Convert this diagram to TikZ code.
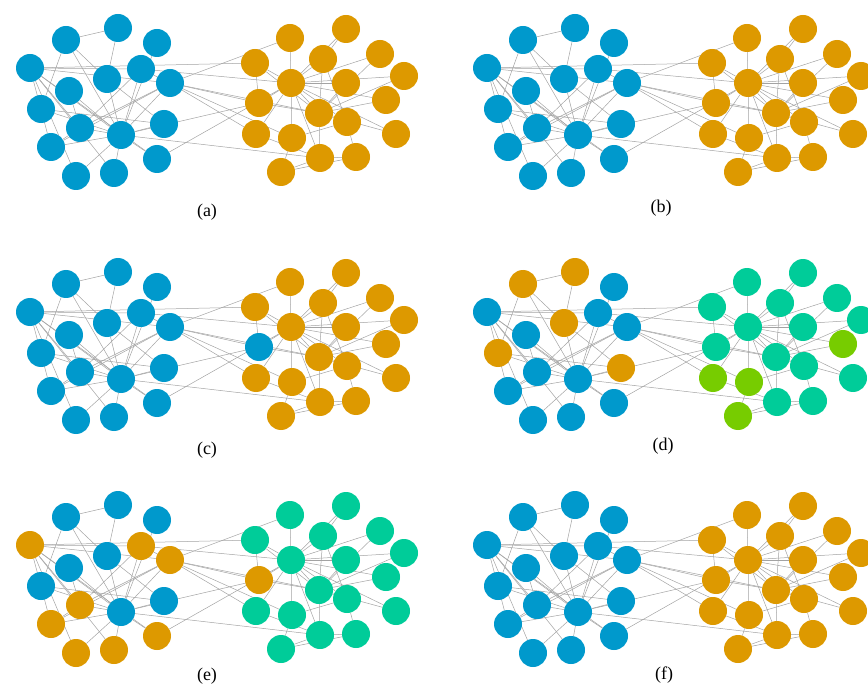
\documentclass[tikz,border=0pt]{standalone}
\usepackage{fontspec}
\setmainfont{Liberation Serif}

\definecolor{kblue}{RGB}{0,153,204}
\definecolor{korange}{RGB}{221,153,0}
\definecolor{kteal}{RGB}{0,204,153}
\definecolor{klime}{RGB}{119,204,0}

\pgfdeclarelayer{edges}
\pgfsetlayers{edges,main}

% member/x/y/side (l = left faction, r = right faction)
\newcommand\clubnodes{1/121/135/l, 2/30/68/l, 3/170/83/l, 4/80/128/l,
  5/41/109/l, 6/107/79/l, 7/66/40/l, 8/51/147/l, 11/164/124/l,
  12/157/43/l, 13/69/91/l, 14/141/69/l, 17/118/28/l, 18/76/176/l,
  20/157/159/l, 22/114/173/l,
  9/259/103/r, 10/290/38/r, 15/380/54/r, 16/404/76/r, 19/346/83/r,
  21/386/100/r, 23/396/134/r, 24/347/122/r, 25/281/172/r, 26/356/157/r,
  27/346/29/r, 28/292/138/r, 29/256/134/r, 30/323/59/r, 31/255/63/r,
  32/320/158/r, 33/319/113/r, 34/291/83/r}

\newcommand\clubedges{1/2, 1/3, 1/4, 1/5, 1/6, 1/7, 1/8, 1/9, 1/11, 1/12,
  1/13, 1/14, 1/18, 1/20, 1/22, 1/32, 2/3, 2/4, 2/8, 2/14, 2/18, 2/20,
  2/22, 2/31, 3/4, 3/8, 3/9, 3/10, 3/14, 3/28, 3/29, 3/33, 4/8, 4/13,
  4/14, 5/7, 5/11, 6/7, 6/11, 6/17, 7/17, 9/31, 9/33, 9/34, 10/34, 14/34,
  15/33, 15/34, 16/33, 16/34, 19/33, 19/34, 20/34, 21/33, 21/34, 23/33,
  23/34, 24/26, 24/28, 24/30, 24/33, 24/34, 25/26, 25/28, 25/32, 26/32,
  27/30, 27/34, 28/34, 29/32, 29/34, 30/33, 30/34, 31/33, 31/34, 32/33,
  32/34, 33/34}

% \recolor{panel}{members}{colour}
\newcommand\recolor[3]{\foreach \m in {#2}{%
  \expandafter\xdef\csname col#1-\m\endcsname{#3}}}

% \clubpanel{panel}{x shift}{y shift}{colour of right faction}
\newcommand\clubpanel[4]{%
  \begin{scope}[shift={(#2,#3)}]
    \foreach \n/\x/\y/\s in \clubnodes {
      \edef\fc{\ifcsname col#1-\n\endcsname\csname col#1-\n\endcsname
        \else\if l\s kblue\else #4\fi\fi}
      \node[member, fill=\fc] (#1-\n) at (\x,\y) {};
    }
    \begin{pgfonlayer}{edges}
      \foreach \a/\b in \clubedges \draw[link] (#1-\a) -- (#1-\b);
    \end{pgfonlayer}
  \end{scope}}

\tikzset{
  member/.style={circle, inner sep=0pt, minimum size=28pt},
  link/.style={draw=black!36, line width=0.5pt},
  caption/.style={font=\fontsize{18}{20}\selectfont, inner sep=0pt}
}

\begin{document}
\begin{tikzpicture}[x=1pt, y=-1pt]
  \useasboundingbox (0,0) rectangle (868,687);
  \clip (0,0) rectangle (868,687);

  \clubpanel{a}{0}{0}{korange}
  \clubpanel{b}{457}{0}{korange}

  \recolor{c}{9}{kblue}
  \clubpanel{c}{0}{244}{korange}

  \recolor{d}{5,6,7,11,17}{korange}
  \recolor{d}{21,25,28,29}{klime}
  \clubpanel{d}{457}{244}{kteal}

  \recolor{e}{2,3,4,8,9,14,18,20,22}{korange}
  \clubpanel{e}{0}{477}{kteal}

  \clubpanel{f}{457}{477}{korange}

  \node[caption] (cap-a) at (207,212) {(a)};
  \node[caption] (cap-b) at (661,208) {(b)};
  \node[caption] (cap-c) at (207,450) {(c)};
  \node[caption] (cap-d) at (663,446) {(d)};
  \node[caption] (cap-e) at (207,676) {(e)};
  \node[caption] (cap-f) at (664,675) {(f)};
\end{tikzpicture}
\end{document}
